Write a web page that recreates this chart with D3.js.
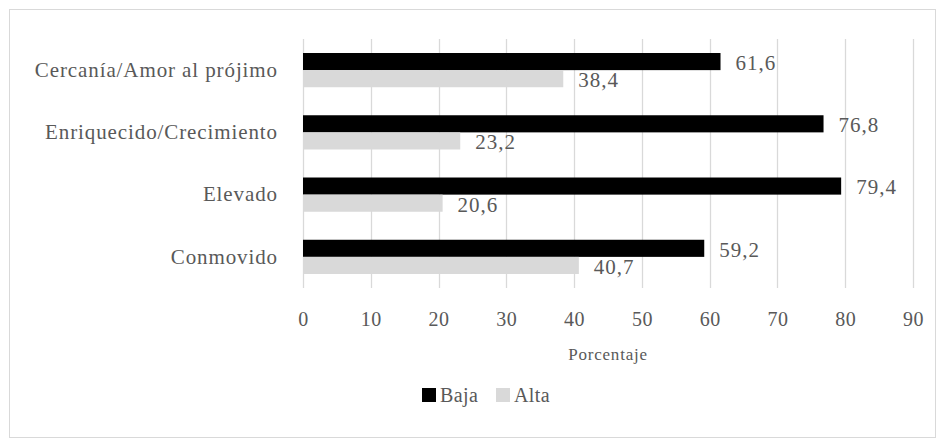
<!DOCTYPE html>
<html>
<head>
<meta charset="utf-8">
<script src="https://cdn.jsdelivr.net/npm/d3@7"></script>
<style>
  body { margin: 0; background: #fff; }
  text { font-family: "Liberation Serif", "DejaVu Serif", serif; fill: #595959; }
</style>
</head>
<body>
<div id="chart"></div>
<script>
// categories, top to bottom
const categories = ["Cercanía/Amor al prójimo", "Enriquecido/Crecimiento", "Elevado", "Conmovido"];
const series = ["Baja", "Alta"];
const baja = [61.6, 76.8, 79.4, 59.2];
const alta = [38.4, 23.2, 20.6, 40.7];
const xTicks = [0, 10, 20, 30, 40, 50, 60, 70, 80, 90];
const colors = { Baja: "#000000", Alta: "#d9d9d9" };

const W = 944, H = 447;
const margin = { top: 39, right: 31, bottom: 159, left: 303 };
const width = W - margin.left - margin.right,
  height = H - margin.top - margin.bottom;

const svg = d3.select("#chart").append("svg")
  .attr("width", W)
  .attr("height", H);

// outer frame
svg.append("rect")
  .attr("x", 9.5).attr("y", 9.5)
  .attr("width", 926).attr("height", 428)
  .attr("fill", "none")
  .attr("stroke", "#d9d9d9");

const g = svg.append("g").attr("transform", `translate(${margin.left},${margin.top})`);

const x = d3.scaleLinear().domain([0, 90]).range([0, width]);
const y0 = d3.scaleBand().domain(categories).range([0, height]).padding(0);
const y1 = d3.scaleBand().domain(series).range([0, y0.bandwidth() * 0.55]);
const groupOffset = (y0.bandwidth() - y1.range()[1]) / 2;

// gridlines
g.selectAll(".grid")
  .data(xTicks)
  .enter()
  .append("line")
  .attr("x1", d => Math.round(x(d)) + 0.5)
  .attr("x2", d => Math.round(x(d)) + 0.5)
  .attr("y1", 0)
  .attr("y2", height)
  .attr("stroke", "#d9d9d9")
  .attr("stroke-width", 1.3);

// x axis labels
const xAxis = g.append("g")
  .attr("transform", `translate(0,${height})`)
  .call(d3.axisBottom(x).tickValues(xTicks).tickSize(0).tickPadding(24).tickFormat(d3.format("d")));
xAxis.select(".domain").remove();
xAxis.selectAll("text")
  .style("font-size", "20px")
  .style("letter-spacing", "0.5px")
  .attr("fill", "#595959");

// y axis labels
const yAxis = g.append("g")
  .call(d3.axisLeft(y0).tickSize(0).tickPadding(25));
yAxis.select(".domain").remove();
yAxis.selectAll("text")
  .style("font-size", "21px")
  .style("letter-spacing", "0.9px")
  .attr("fill", "#595959");

// axis title
g.append("text")
  .attr("x", width / 2)
  .attr("y", height + 72)
  .attr("text-anchor", "middle")
  .style("font-size", "17px")
  .style("letter-spacing", "0.8px")
  .text("Porcentaje");

// bars
const rows = categories.map((c, i) => ({ cat: c, values: [
  { key: "Baja", value: baja[i] },
  { key: "Alta", value: alta[i] }
] }));

const groups = g.selectAll(".grp")
  .data(rows)
  .enter()
  .append("g")
  .attr("transform", d => `translate(0,${y0(d.cat) + groupOffset})`);

groups.selectAll("rect")
  .data(d => d.values)
  .enter()
  .append("rect")
  .attr("x", 0)
  .attr("y", d => y1(d.key))
  .attr("width", d => x(d.value))
  .attr("height", y1.bandwidth())
  .attr("fill", d => colors[d.key]);

const fmt = v => d3.format(".1f")(v).replace(".", ",");
groups.selectAll(".lbl")
  .data(d => d.values)
  .enter()
  .append("text")
  .attr("x", d => x(d.value) + 15)
  .attr("y", d => y1(d.key) + y1.bandwidth() / 2 + 1)
  .attr("dy", "0.35em")
  .style("font-size", "21px")
  .style("letter-spacing", "1px")
  .attr("fill", "#404040")
  .text(d => fmt(d.value));

// legend
const legend = svg.append("g").attr("transform", "translate(422,388)");
const items = legend.selectAll(".item")
  .data(series)
  .enter()
  .append("g")
  .attr("transform", (d, i) => `translate(${i * 74},0)`);
items.append("rect")
  .attr("width", 14).attr("height", 14)
  .attr("fill", d => colors[d]);
items.append("text")
  .attr("x", 18)
  .attr("y", 7)
  .attr("dy", "0.35em")
  .style("font-size", "20px")
  .style("letter-spacing", "0.4px")
  .text(d => d);
</script>
</body>
</html>
